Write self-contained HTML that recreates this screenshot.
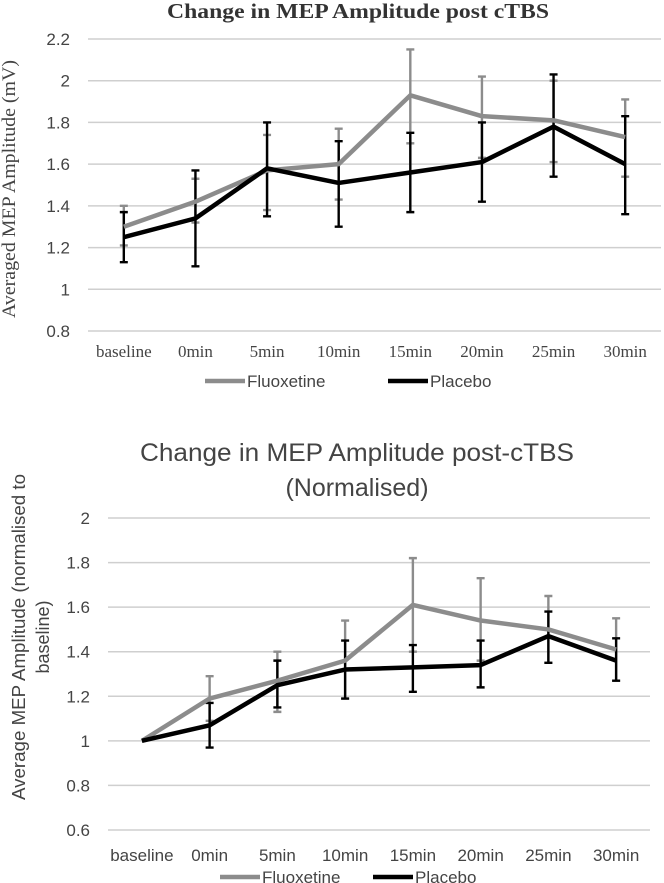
<!DOCTYPE html>
<html><head><meta charset="utf-8">
<style>
body{margin:0;background:#fff;}
svg{display:block;}
</style></head>
<body>
<svg id="c" width="664" height="883" xmlns="http://www.w3.org/2000/svg">
<rect width="664" height="883" fill="#fff"/>
<text x="358" y="18" text-anchor="middle" font-family="Liberation Serif, serif" font-weight="bold" font-size="21" textLength="382" lengthAdjust="spacingAndGlyphs" fill="#333">Change in MEP Amplitude post cTBS</text>
<text transform="translate(15,189) rotate(-90)" text-anchor="middle" font-family="Liberation Serif, serif" font-size="19" textLength="258" lengthAdjust="spacingAndGlyphs" fill="#444">Averaged MEP Amplitude (mV)</text>
<text x="357" y="461" text-anchor="middle" font-family="Liberation Sans, sans-serif" font-size="25" textLength="434" lengthAdjust="spacingAndGlyphs" fill="#444">Change in MEP Amplitude post-cTBS</text>
<text x="357" y="496" text-anchor="middle" font-family="Liberation Sans, sans-serif" font-size="25" fill="#444">(Normalised)</text>
<text transform="translate(25,637) rotate(-90)" text-anchor="middle" font-family="Liberation Sans, sans-serif" font-size="18" textLength="326" lengthAdjust="spacingAndGlyphs" fill="#444">Average MEP Amplitude (normalised to</text>
<text transform="translate(49,637) rotate(-90)" text-anchor="middle" font-family="Liberation Sans, sans-serif" font-size="18" fill="#444">baseline)</text>
</svg>
<script>
const categories = ["baseline","0min","5min","10min","15min","20min","25min","30min"];
const topTicks = [0.8,1,1.2,1.4,1.6,1.8,2,2.2];
const topFluox = [1.30,1.42,1.57,1.60,1.93,1.83,1.81,1.73];
const topFluoxHi = [1.40,1.53,1.74,1.77,2.15,2.02,2.00,1.91];
const topFluoxLo = [1.21,1.32,1.38,1.43,1.70,1.63,1.61,1.54];
const topPlac = [1.25,1.34,1.58,1.51,1.56,1.61,1.78,1.60];
const topPlacHi = [1.37,1.57,1.80,1.71,1.75,1.80,2.03,1.83];
const topPlacLo = [1.13,1.11,1.35,1.30,1.37,1.42,1.54,1.36];
const botTicks = [0.6,0.8,1,1.2,1.4,1.6,1.8,2];
const botFluox = [1.0,1.19,1.27,1.36,1.61,1.54,1.50,1.41];
const botFluoxHi = [null,1.29,1.40,1.54,1.82,1.73,1.65,1.55];
const botFluoxLo = [null,1.09,1.13,1.19,1.40,1.36,1.35,1.27];
const botPlac = [1.0,1.07,1.25,1.32,1.33,1.34,1.47,1.36];
const botPlacHi = [null,1.17,1.36,1.45,1.43,1.45,1.58,1.46];
const botPlacLo = [null,0.97,1.15,1.19,1.22,1.24,1.35,1.27];

const svg = document.getElementById('c');
const NS = 'http://www.w3.org/2000/svg';
function mk(tag, attrs){ const e=document.createElementNS(NS,tag); for(const k in attrs) e.setAttribute(k,attrs[k]); svg.appendChild(e); return e; }

function drawChart(cfg){
  const {pfx,left,right,vTop,vBot,yTop,yBot,ticks,tickX,catY,catFont,legY,leg,series} = cfg;
  const band=(right-left)/categories.length;
  const x=i=>left+band*(i+0.5);
  const y=v=>yBot-(v-vBot)/(vTop-vBot)*(yBot-yTop);
  ticks.forEach(t=>{
    const g=mk('line',{x1:left,x2:right,y1:y(t),y2:y(t),stroke:'#cfcfcf','stroke-width':1.5});
    
    
    const l=mk('text',{x:tickX,y:y(t)+6,'text-anchor':'end','font-family':'Liberation Sans, sans-serif','font-size':17,fill:'#444'});
    l.textContent=String(t);
    
    
  });
  categories.forEach((c,i)=>{
    const l=mk('text',{x:x(i),y:catY,'text-anchor':'middle','font-family':catFont,'font-size':17,fill:'#444'});
    l.textContent=c;
    
    
  });
  series.forEach(s=>{
    s.vals.forEach((v,i)=>{
      if(s.hi[i]==null) return;
      const e=mk('path',{d:`M${x(i)},${y(s.hi[i])}V${y(s.lo[i])}M${x(i)-4},${y(s.hi[i])}h8M${x(i)-4},${y(s.lo[i])}h8`,stroke:s.color,'stroke-width':2.4,fill:'none'});
      
      
    });
  });
  series.forEach(s=>{
    const p=mk('polyline',{points:s.vals.map((v,i)=>x(i)+','+y(v)).join(' '),stroke:s.color,'stroke-width':4.5,fill:'none','stroke-linejoin':'round'});
    
    
  });
  series.forEach((s,k)=>{
    const L=leg[k];
    const ln=mk('line',{x1:L[0],x2:L[0]+40,y1:legY,y2:legY,stroke:s.color,'stroke-width':4.5});
    
    
    const t=mk('text',{x:L[0]+42,y:legY+6,'font-family':'Liberation Sans, sans-serif','font-size':17,fill:'#444'});
    t.textContent=s.label;
    
    
  });
}

drawChart({pfx:'top',left:88,right:661,vTop:2.2,vBot:0.8,yTop:39,yBot:331,ticks:topTicks,tickX:70,
  catY:357,catFont:'Liberation Serif, serif',legY:381,leg:[[205],[388]],
  series:[{key:'fluoxetine',label:'Fluoxetine',color:'#8c8c8c',vals:topFluox,hi:topFluoxHi,lo:topFluoxLo},
          {key:'placebo',label:'Placebo',color:'#000',vals:topPlac,hi:topPlacHi,lo:topPlacLo}]});
drawChart({pfx:'bottom',left:108,right:650,vTop:2,vBot:0.6,yTop:518,yBot:830,ticks:botTicks,tickX:90,
  catY:861,catFont:'Liberation Sans, sans-serif',legY:877,leg:[[220],[373]],
  series:[{key:'fluoxetine',label:'Fluoxetine',color:'#8c8c8c',vals:botFluox,hi:botFluoxHi,lo:botFluoxLo},
          {key:'placebo',label:'Placebo',color:'#000',vals:botPlac,hi:botPlacHi,lo:botPlacLo}]});
</script>
</body></html>
